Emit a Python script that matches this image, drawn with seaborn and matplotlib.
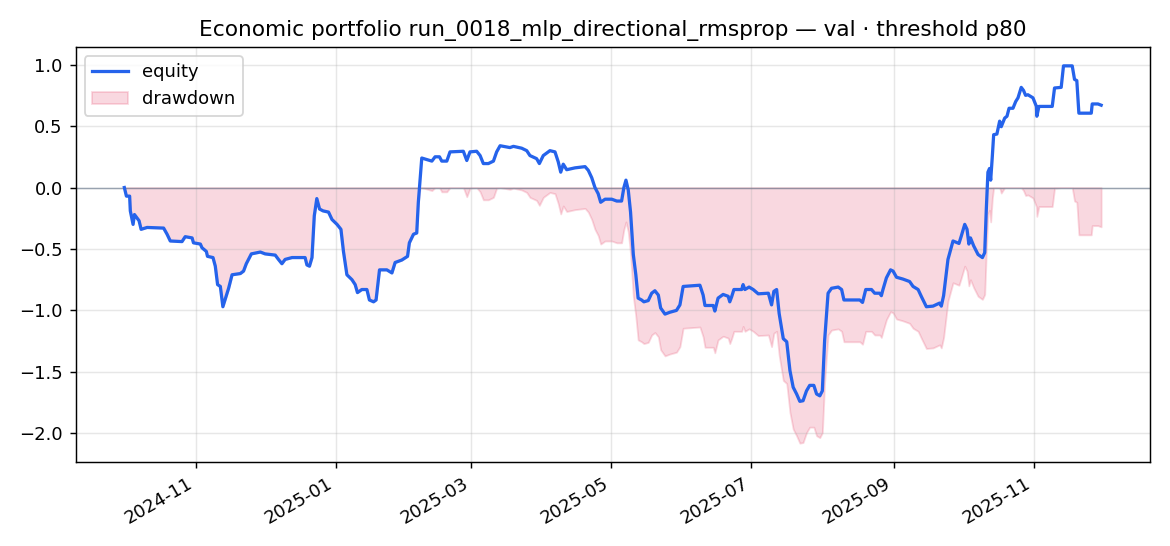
import numpy as np
import pandas as pd
import matplotlib
matplotlib.use("Agg")
import matplotlib.pyplot as plt
import matplotlib.dates as mdates
import seaborn as sns

START_DATE = "2024-10-01"

day_offsets = [
    0.0, 0.9, 2.3, 2.6, 3.8, 4.4, 6.4, 7.3, 9.9, 17.1, 18.6, 20.0, 25.1, 26.5, 29.5, 30.1,
    33.1, 33.8, 35.7, 36.2, 38.6, 39.6, 40.6, 41.8, 42.9, 43.9, 45.4, 46.9, 50.5, 51.9, 53.1,
    55.3, 59.2, 61.3, 65.7, 67.1, 68.6, 70.0, 73.0, 78.7, 79.5, 80.6, 81.7, 82.7, 83.8, 85.0,
    86.5, 88.9, 90.4, 92.6, 94.3, 95.4, 96.9, 99.1, 100.5, 101.5, 103.4, 105.6, 106.7, 108.5,
    109.6, 111.1, 114.3, 116.5, 117.9, 120.8, 123.3, 124.1, 125.9, 127.3, 128.0, 128.8, 129.5,
    133.9, 135.3, 137.2, 138.2, 140.4, 141.8, 147.6, 149.1, 150.5, 153.4, 154.9, 156.3, 158.5,
    160.7, 162.1, 163.6, 167.9, 169.4, 173.0, 175.2, 176.6, 179.5, 180.7, 182.4, 185.3, 187.5,
    188.9, 190.0, 191.1, 192.6, 196.2, 200.6, 202.0, 203.5, 204.9, 206.3, 207.4, 209.3, 212.2,
    214.4, 216.5, 217.5, 218.4, 219.4, 220.4, 221.6, 222.7, 223.7, 225.2, 226.2, 228.1, 229.6,
    231.0, 232.5, 233.5, 235.4, 237.5, 240.4, 241.9, 243.3, 250.6, 252.0, 252.8, 256.4, 257.1,
    258.5, 260.7, 262.9, 263.6, 264.4, 265.4, 268.8, 269.4, 270.2, 272.0, 273.8, 276.0, 280.4,
    281.8, 282.8, 284.0, 285.1, 286.9, 288.4, 289.8, 291.2, 292.7, 294.1, 295.5, 297.0, 298.4,
    300.2, 301.4, 302.8, 303.9, 304.9, 306.4, 307.9, 310.8, 312.3, 313.3, 320.2, 321.4, 322.8,
    325.3, 326.7, 328.9, 329.6, 330.3, 331.8, 333.6, 334.7, 336.2, 339.0, 341.9, 343.4, 345.6,
    347.1, 349.2, 352.1, 355.0, 355.7, 356.7, 358.6, 360.8, 363.4, 364.4, 365.9, 366.9, 367.7,
    368.4, 369.8, 371.7, 373.6, 374.6, 375.3, 376.0, 376.7, 377.2, 377.9, 378.5, 379.9, 381.1,
    381.8, 383.3, 384.3, 385.2, 386.9, 388.1, 389.1, 390.5, 391.5, 392.4, 393.4, 395.6, 397.1,
    397.3, 398.2, 404.0, 405.0, 407.9, 408.9, 412.7, 413.7, 414.7, 415.6, 421.0, 421.4, 423.9,
    425.3,
]

equity = [
    0.0, -0.07, -0.07, -0.19, -0.30, -0.22, -0.27, -0.34, -0.325, -0.33, -0.38, -0.435, -0.44,
    -0.40, -0.41, -0.45, -0.46, -0.49, -0.52, -0.56, -0.57, -0.64, -0.79, -0.805, -0.97, -0.91,
    -0.82, -0.71, -0.70, -0.68, -0.62, -0.54, -0.525, -0.54, -0.55, -0.585, -0.62, -0.585,
    -0.57, -0.57, -0.63, -0.64, -0.57, -0.23, -0.09, -0.175, -0.19, -0.20, -0.26, -0.30, -0.34,
    -0.52, -0.71, -0.75, -0.79, -0.855, -0.83, -0.83, -0.915, -0.93, -0.915, -0.67, -0.67,
    -0.695, -0.61, -0.59, -0.56, -0.45, -0.38, -0.37, -0.12, 0.07, 0.24, 0.215, 0.25, 0.25,
    0.215, 0.215, 0.29, 0.295, 0.22, 0.29, 0.295, 0.26, 0.195, 0.195, 0.215, 0.29, 0.34, 0.325,
    0.335, 0.32, 0.30, 0.26, 0.235, 0.195, 0.26, 0.30, 0.29, 0.21, 0.125, 0.19, 0.145, 0.16,
    0.17, 0.14, 0.08, 0.0, -0.05, -0.12, -0.095, -0.095, -0.11, -0.11, 0.0, 0.06, -0.02, -0.20,
    -0.545, -0.71, -0.90, -0.915, -0.93, -0.92, -0.86, -0.84, -0.875, -0.98, -1.03, -1.015,
    -1.0, -0.955, -0.805, -0.795, -0.875, -0.96, -0.96, -1.005, -0.90, -0.87, -0.885, -0.93,
    -0.89, -0.83, -0.83, -0.79, -0.83, -0.81, -0.83, -0.865, -0.86, -0.955, -0.845, -0.83,
    -1.025, -1.23, -1.255, -1.49, -1.625, -1.68, -1.74, -1.735, -1.655, -1.61, -1.61, -1.68,
    -1.695, -1.655, -1.245, -0.86, -0.82, -0.81, -0.83, -0.915, -0.915, -0.935, -0.83, -0.83,
    -0.86, -0.86, -0.88, -0.83, -0.735, -0.67, -0.68, -0.73, -0.745, -0.765, -0.805, -0.83,
    -0.89, -0.97, -0.965, -0.94, -0.965, -0.88, -0.585, -0.435, -0.455, -0.395, -0.30, -0.34,
    -0.46, -0.41, -0.475, -0.545, -0.57, -0.53, -0.175, 0.125, 0.155, 0.06, 0.25, 0.43, 0.435,
    0.54, 0.495, 0.565, 0.58, 0.645, 0.645, 0.70, 0.73, 0.815, 0.79, 0.75, 0.755, 0.73, 0.66,
    0.58, 0.66, 0.66, 0.81, 0.815, 0.99, 0.99, 0.88, 0.87, 0.605, 0.605, 0.68, 0.68, 0.67,
]

TITLE = "Economic portfolio run_0018_mlp_directional_rmsprop \u2014 val \u00b7 threshold p80"

dates = pd.Timestamp(START_DATE) + pd.to_timedelta(np.array(day_offsets), unit="D")
eq = np.array(equity)
drawdown = eq - np.maximum.accumulate(eq)
df = pd.DataFrame({"date": dates, "equity": eq, "drawdown": drawdown})

fig, ax = plt.subplots(figsize=(9, 4.2), dpi=130)

ax.fill_between(df["date"], df["drawdown"], 0, color="#e11d48", alpha=0.17,
                label="drawdown", zorder=1)
ax.axhline(0, color="#64748b", lw=0.8, alpha=0.6, zorder=2)
sns.lineplot(data=df, x="date", y="equity", ax=ax, color="#2563eb", lw=1.8,
             label="equity", sort=False, zorder=3)

ax.xaxis.set_major_locator(mdates.MonthLocator(bymonth=[1, 3, 5, 7, 9, 11]))
ax.xaxis.set_major_formatter(mdates.DateFormatter("%Y-%m"))
ax.grid(True, alpha=0.3)
ax.set_xlabel("")
ax.set_ylabel("")
ax.set_title(TITLE, fontsize=12)
handles, labels = ax.get_legend_handles_labels()
order = [labels.index("equity"), labels.index("drawdown")]
ax.legend([handles[i] for i in order], [labels[i] for i in order], loc="upper left")
fig.autofmt_xdate()
fig.subplots_adjust(left=75.5 / 1170, right=1150 / 1170, top=1 - 47 / 546, bottom=1 - 462 / 546)

fig.savefig("out.png", dpi=130)
